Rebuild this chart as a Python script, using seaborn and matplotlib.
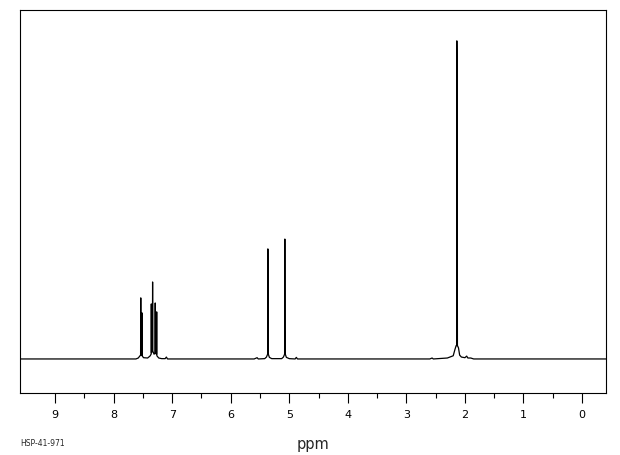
import pandas as pd
import matplotlib
matplotlib.use("Agg")
import matplotlib.pyplot as plt
import seaborn as sns

# Spectrum trace (chemical shift in ppm, relative intensity)
ppm = [9.60, 7.62, 7.58, 7.55, 7.540, 7.537, 7.534, 7.520, 7.517, 7.514,
       7.49, 7.42, 7.38, 7.360, 7.357, 7.354, 7.338, 7.335, 7.332, 7.31,
       7.293, 7.290, 7.287, 7.268, 7.265, 7.262, 7.23, 7.18, 7.12, 7.10,
       7.08, 5.60, 5.55, 5.53, 5.42, 5.39, 5.370, 5.366, 5.362, 5.358,
       5.34, 5.30, 5.13, 5.10, 5.080, 5.076, 5.072, 5.068, 5.05, 5.00,
       4.90, 4.88, 4.86, 2.60, 2.56, 2.54, 2.30, 2.20, 2.17, 2.150,
       2.140, 2.138, 2.133, 2.128, 2.11, 2.09, 2.06, 2.00, 1.97, 1.95,
       1.90, 1.85, -0.41]
intensity = [0.0, 0.0, 0.3, 1.0, 1.2, 19.2, 1.2, 1.2, 14.5, 1.0,
             0.4, 0.3, 0.9, 1.5, 17.3, 2.0, 2.5, 24.2, 2.5, 1.5,
             1.8, 17.6, 1.8, 1.5, 14.8, 1.0, 0.3, 0.1, 0.1, 0.6,
             0.0, 0.0, 0.4, 0.0, 0.1, 0.6, 1.5, 34.6, 16.0, 1.5,
             0.5, 0.1, 0.1, 0.6, 1.5, 37.7, 9.1, 1.5, 0.5, 0.1,
             0.0, 0.5, 0.0, 0.0, 0.3, 0.0, 0.3, 1.0, 3.0, 4.2,
             4.2, 100.0, 86.8, 4.2, 3.5, 1.2, 0.6, 0.4, 0.9, 0.3,
             0.3, 0.0, 0.0]

major_ticks = [9, 8, 7, 6, 5, 4, 3, 2, 1, 0]
minor_ticks = [8.5, 7.5, 6.5, 5.5, 4.5, 3.5, 2.5, 1.5, 0.5]
tick_labels = [str(t) for t in major_ticks]

df = pd.DataFrame({"ppm": ppm, "intensity": intensity})

sns.set_style("ticks")
plt.rcParams['font.family'] = ['DejaVu Sans']

fig = plt.figure(figsize=(6.2, 4.55), dpi=100)
ax = fig.add_axes([20 / 620, 1 - 393 / 455, 586 / 620, 383 / 455])

sns.lineplot(data=df, x="ppm", y="intensity", sort=False, estimator=None,
             color="black", linewidth=0.9, ax=ax)

ax.set_xlim(9.60, -0.41)
ax.set_ylim(-10.7, 109.7)

ax.set_xticks(major_ticks)
ax.set_xticklabels(tick_labels, fontsize=8)
ax.set_xticks(minor_ticks, minor=True)
ax.tick_params(axis="x", which="major", length=7.2, width=0.8, direction="out",
               pad=5, colors="black")
ax.tick_params(axis="x", which="minor", length=3.6, width=0.8, direction="out",
               colors="black")
ax.set_yticks([])
ax.set_xlabel("")
ax.set_ylabel("")

for side in ["top", "bottom", "left", "right"]:
    ax.spines[side].set_visible(True)
    ax.spines[side].set_color("black")
    ax.spines[side].set_linewidth(0.8)

fig.text(313 / 620, 1 - 445 / 455, "ppm", ha="center", va="center", fontsize=10.5)
fig.text(20 / 620, 1 - 443 / 455, "HSP-41-971", ha="left", va="center", fontsize=5.5)

fig.savefig("out.png", dpi=100)
